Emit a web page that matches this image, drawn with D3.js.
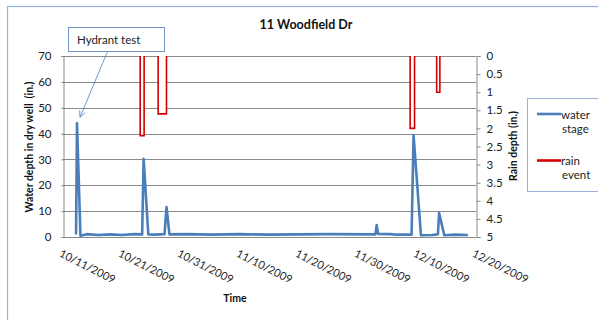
<!DOCTYPE html>
<html><head><meta charset="utf-8">
<script src="https://cdn.jsdelivr.net/npm/d3@7"></script>
<style>
html,body{margin:0;padding:0;background:#fff;}
svg{display:block;font-family:Lato,"Open Sans",sans-serif;}
</style></head>
<body>
<svg id="c" width="598" height="320"></svg>
<script>
// ---------- data ----------
const chartTitle = "11 Woodfield Dr";
const xTickLabels = ["10/11/2009","10/21/2009","10/31/2009","11/10/2009","11/20/2009","11/30/2009","12/10/2009","12/20/2009"];
const leftTicks = [0,10,20,30,40,50,60,70];
const rightTicks = [0,0.5,1,1.5,2,2.5,3,3.5,4,4.5,5];

const waterTimes = ["2009-10-13 05:00","2009-10-13 09:00","2009-10-13 23:00","2009-10-15 00:00","2009-10-17 00:00",
  "2009-10-19 00:00","2009-10-21 00:00","2009-10-23 00:00","2009-10-24 10:00","2009-10-24 16:00","2009-10-25 11:00",
  "2009-10-26 12:00","2009-10-28 05:00","2009-10-28 13:00","2009-10-29 01:00","2009-11-01 00:00","2009-11-05 00:00",
  "2009-11-10 00:00","2009-11-15 00:00","2009-11-20 00:00","2009-11-25 00:00","2009-12-02 23:00","2009-12-03 04:00",
  "2009-12-03 10:00","2009-12-05 12:00","2009-12-06 12:00","2009-12-09 02:00","2009-12-09 10:00","2009-12-10 16:00",
  "2009-12-12 12:00","2009-12-13 13:00","2009-12-13 18:00","2009-12-14 15:00","2009-12-16 12:00","2009-12-18 15:00"];
const waterStage = [1.0,44,0.5,1.1,0.8,
  1.0,0.8,1.1,1.0,30.2,1.0,
  0.9,1.1,11.6,1.0,1.1,0.9,
  1.1,0.9,1.0,1.1,1.0,4.6,
  1.2,1.1,0.9,0.9,39.3,0.7,
  0.8,1.0,9.3,0.7,0.9,0.8];

const rainStart = ["2009-10-24 02:00","2009-10-27 03:00","2009-12-08 20:00","2009-12-13 08:00"];
const rainEnd   = ["2009-10-24 18:00","2009-10-28 13:00","2009-12-09 14:00","2009-12-13 21:00"];
const rainDepth = [2.2,1.6,2.0,1.0];

const seriesNames = [["water","stage"],["rain","event"]];
const annotationText = "Hydrant test";

// ---------- setup ----------
const parse = d3.timeParse("%Y-%m-%d %H:%M");
const parseTick = d3.timeParse("%m/%d/%Y");
const svg = d3.select("#c");
const L = 63, R = 476, T = 56, B = 237;
const blue = "#4a7ebb", red = "#d20000", grid = "#8a8a8a";

const x = d3.scaleTime().domain([parseTick(xTickLabels[0]), parseTick(xTickLabels[xTickLabels.length-1])]).range([L,R]);
const yL = d3.scaleLinear().domain([0,70]).range([B,T]);
const yR = d3.scaleLinear().domain([0,5]).range([T,B]);

// outer chart border
svg.append("rect").attr("x",7.5).attr("y",6.5).attr("width",620).attr("height",340)
  .attr("fill","#fff").attr("stroke","#95b3d7").attr("stroke-width",1.2);

// gridlines
svg.append("g").selectAll("line").data(leftTicks).join("line")
  .attr("x1",L-1).attr("x2",R).attr("y1",d=>Math.round(yL(d))+0.5).attr("y2",d=>Math.round(yL(d))+0.5)
  .attr("stroke",grid).attr("stroke-width",1);

// left axis
const gL = svg.append("g").attr("transform",`translate(${L+0.5},0)`)
  .call(d3.axisLeft(yL).tickValues(leftTicks).tickSize(2).tickPadding(10).tickFormat(d3.format("d")));
gL.select(".domain").attr("stroke",grid);
gL.selectAll(".tick line").attr("stroke",grid);
gL.selectAll("text").attr("font-size",11.5).attr("fill","#222").attr("font-family","Lato,sans-serif");

// right axis
const gR = svg.append("g").attr("transform",`translate(${R+0.5},0)`)
  .call(d3.axisRight(yR).tickValues(rightTicks).tickSize(4).tickPadding(6).tickFormat(d=>String(d)));
gR.select(".domain").attr("stroke",grid);
gR.selectAll(".tick line").attr("stroke",grid);
gR.selectAll("text").attr("font-size",11.5).attr("fill","#222").attr("font-family","Lato,sans-serif");

// bottom axis labels
const xTicks = xTickLabels.map(parseTick);
const fmt = d3.timeFormat("%m/%d/%Y");
svg.append("g").selectAll("text").data(xTicks).join("text")
  .attr("transform",d=>`translate(${x(d)-4.5},256) rotate(27)`)
  .attr("font-size",11).attr("fill","#222").text(d=>fmt(d));

// rain events
const clipId = "plotclip";
svg.append("clipPath").attr("id",clipId).append("rect").attr("x",L).attr("y",T).attr("width",R-L).attr("height",B-T);
const rainData = rainDepth.map((d,i)=>({s:parse(rainStart[i]), e:parse(rainEnd[i]), d}));
const rainPath = r => `M${x(r.s)},${yR(0)-3}L${x(r.s)},${yR(r.d)}L${x(r.e)},${yR(r.d)}L${x(r.e)},${yR(0)-3}`;
svg.append("g").attr("clip-path",`url(#${clipId})`).selectAll("path").data(rainData).join("path")
  .attr("d",rainPath).attr("fill","#fff").attr("stroke",red).attr("stroke-width",1.6);

// water stage
const wData = waterTimes.map((t,i)=>({t:parse(t), v:waterStage[i]}));
svg.append("path").datum(wData)
  .attr("d",d3.line().x(d=>x(d.t)).y(d=>yL(d.v)))
  .attr("fill","none").attr("stroke",blue).attr("stroke-width",2.6).attr("stroke-linejoin","round");

// title
svg.append("text").attr("x",306).attr("y",29).attr("text-anchor","middle")
  .attr("font-size",12.5).attr("font-weight","bold").attr("fill","#111").text(chartTitle);

// axis titles
svg.append("text").attr("transform","translate(33,147) rotate(-90)").attr("text-anchor","middle")
  .attr("font-size",10.5).attr("font-weight","bold").attr("fill","#111").attr("xml:space","preserve")
  .style("white-space","pre").text("Water depth in dry well  (in.)");
svg.append("text").attr("transform","translate(517,146) rotate(-90)").attr("text-anchor","middle")
  .attr("font-size",10.5).attr("font-weight","bold").attr("fill","#111").text("Rain depth (in.)");
svg.append("text").attr("x",235).attr("y",302).attr("text-anchor","middle")
  .attr("font-size",10.5).attr("font-weight","bold").attr("fill","#111").text("Time");

// legend
svg.append("rect").attr("x",527.5).attr("y",98.5).attr("width",90).attr("height",93)
  .attr("fill","#fff").attr("stroke","#95b3d7").attr("stroke-width",1);
const legItems = [{c:blue, y:114, t:seriesNames[0]},{c:red, y:160.5, t:seriesNames[1]}];
const lg = svg.append("g").selectAll("g").data(legItems).join("g");
lg.append("line").attr("x1",537).attr("x2",561).attr("y1",d=>d.y).attr("y2",d=>d.y)
  .attr("stroke",d=>d.c).attr("stroke-width",2.6);
lg.append("text").attr("x",561).attr("y",d=>d.y+4.5).attr("font-size",11.5).attr("fill","#222").text(d=>d.t[0]);
lg.append("text").attr("x",562).attr("y",d=>d.y+18.5).attr("font-size",11.5).attr("fill","#222").text(d=>d.t[1]);

// annotation
const peak = wData[1];
const tipX = x(peak.t)+3, tipY = yL(peak.v)-6;
const boxX = 68.5, boxY = 27.5, boxW = 96, boxH = 24;
const sx = 107.5, sy = boxY+boxH;
const ann = svg.append("g");
ann.append("line").attr("x1",sx).attr("y1",sy).attr("x2",tipX).attr("y2",tipY)
  .attr("stroke","#4f81bd").attr("stroke-width",0.8);
const ang = Math.atan2(tipY-sy, tipX-sx);
[0.45,-0.45].forEach(a=>{
  ann.append("line").attr("x1",tipX).attr("y1",tipY)
    .attr("x2",tipX-7*Math.cos(ang+a)).attr("y2",tipY-7*Math.sin(ang+a))
    .attr("stroke","#4f81bd").attr("stroke-width",0.8);
});
ann.append("rect").attr("x",boxX).attr("y",boxY).attr("width",boxW).attr("height",boxH)
  .attr("fill","#fff").attr("stroke","#6f94c8").attr("stroke-width",1);
ann.append("text").attr("x",77).attr("y",43.5).attr("font-size",11.5).attr("fill","#222").text(annotationText);
</script>
</body></html>
